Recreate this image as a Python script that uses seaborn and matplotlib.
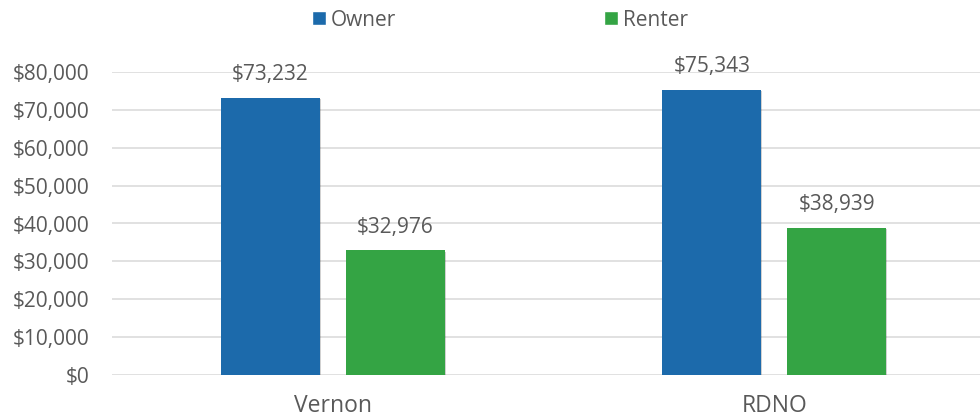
import matplotlib
matplotlib.use("Agg")
import matplotlib.pyplot as plt
import matplotlib.patheffects as pe
from matplotlib.patches import Patch
import seaborn as sns
import pandas as pd

# Median household income by tenure
regions = ["Vernon", "RDNO"]
tenure = ["Owner", "Renter"]
owner_income = [73232, 75343]
renter_income = [32976, 38939]
y_ticks = [0, 10000, 20000, 30000, 40000, 50000, 60000, 70000, 80000]

colors = {"Owner": "#1c6aab", "Renter": "#34a444"}
text_color = "#595959"

df = pd.DataFrame({
    "Region": regions * 2,
    "Tenure": ["Owner"] * len(regions) + ["Renter"] * len(regions),
    "Income": owner_income + renter_income,
})

sns.set_theme(style="white")
plt.rcParams["font.family"] = ["Open Sans", "DejaVu Sans"]

fig = plt.figure(figsize=(9.8, 4.19), dpi=100)
ax = fig.add_axes([112 / 980, 1 - 375 / 419, (995 - 112) / 980, (375 - 72) / 419])

sns.barplot(data=df, x="Region", y="Income", hue="Tenure", order=regions,
            hue_order=tenure, palette=colors, width=0.566, gap=0.21,
            saturation=1, legend=False, ax=ax, zorder=3)

shadow = [pe.SimplePatchShadow(offset=(0.8, -1.2), shadow_rgbFace="#000000", alpha=0.18), pe.Normal()]
for patch in ax.patches:
    patch.set_path_effects(shadow)
    patch.set_linewidth(0)

for cont in ax.containers:
    labels = ax.bar_label(cont, labels=[f"${v:,.0f}" for v in cont.datavalues],
                          padding=9, fontsize=15, color=text_color)
    for t in labels:
        t.set_clip_on(False)

ax.set_xlim(-0.5, 1.5)
ax.set_ylim(0, 80000)
ax.set_yticks(y_ticks)
ax.set_yticklabels([f"${v:,.0f}" for v in y_ticks])
ax.yaxis.grid(True, color="#d9d9d9", linewidth=1.1, zorder=0)
ax.set_axisbelow(True)
for s in ax.spines.values():
    s.set_visible(False)
ax.tick_params(axis="y", length=0, pad=16, labelsize=15, labelcolor=text_color)
ax.tick_params(axis="x", length=0, pad=14, labelsize=16.5, labelcolor=text_color)
ax.set_xlabel("")
ax.set_ylabel("")

handles = [Patch(facecolor=colors[t], label=t) for t in tenure]
fig.legend(handles=handles, loc="center", bbox_to_anchor=(500 / 980, 1 - 20 / 419),
           ncol=2, frameon=False, fontsize=15, labelcolor=text_color,
           handlelength=0.67, handleheight=0.67, handletextpad=0.24, columnspacing=10)

fig.savefig("out.png", dpi=100)
